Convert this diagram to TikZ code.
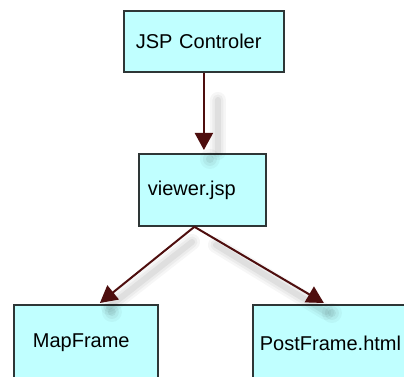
\documentclass[tikz,border=0pt]{standalone}
\usepackage{fontspec}
\setmainfont{Liberation Sans}
\usetikzlibrary{arrows.meta,calc}
\definecolor{boxfill}{HTML}{C0FFFF}
\definecolor{boxline}{HTML}{2E3636}
\definecolor{linkred}{HTML}{4E0E0E}
\tikzset{
  box/.style={draw=boxline, line width=1.8pt, fill=boxfill, rectangle,
    align=left, anchor=north west, inner ysep=0pt,
    font=\fontsize{20}{24}\selectfont},
  link/.style={draw=linkred, line width=2pt,
    -{Triangle[length=17pt,width=18pt]}},
  linkshade/.style={line cap=round, black, opacity=#1},
  tipshade/.style={fill=black, opacity=#1},
}
\begin{document}
\begin{tikzpicture}[x=1pt,y=-1pt]
\useasboundingbox[fill=white] (0,0) rectangle (404,377);

% boxes
\node[box, minimum width=160pt, minimum height=61pt, inner xsep=12pt,
      text width=136pt] (ctrl) at (123,10) {JSP Controler};
\node[box, minimum width=127pt, minimum height=72pt, inner xsep=9pt,
      text width=109pt] (viewer) at (138,153) {viewer.jsp};
\node[box, minimum width=144pt, minimum height=76pt, inner xsep=19pt,
      text width=106pt] (map) at (13,304) {MapFrame};
\node[box, minimum width=160pt, minimum height=76pt, inner xsep=7pt,
      text width=146pt] (post) at (252,304) {PostFrame.html};

% connector end points
\coordinate (c1) at (ctrl.south);
\coordinate (c2) at ($(ctrl.south |- viewer.north)+(0,-3)$);
\coordinate (v1) at ($(viewer.south)+(-8,0)$);
\coordinate (m1) at ($(map.north)+(14,-1)$);
\coordinate (p1) at ($(post.north)+(-9,-1)$);

% soft shadows under the connectors
\foreach \w/\o in {16/0.035, 11/0.04, 6/0.05}{
  \draw[line width=\w pt, linkshade=\o]
    ($(c1)!0.3!(c2)+(14,4)$) -- ($(c2)+(14,2)$);
  \draw[line width=\w pt, linkshade=\o]
    ($(v1)!0.12!(m1)+(9,6)$) -- ($(m1)+(9,4)$);
  \draw[line width=\w pt, linkshade=\o]
    ($(v1)!0.12!(p1)+(6,9)$) -- ($(p1)+(2,9)$);
}
% shadow spots cast by the arrow heads
\foreach \r/\o in {10/0.035, 7/0.045, 4/0.055}{
  \fill[tipshade=\o] ($(c2)+(6,9)$) circle (\r);
  \fill[tipshade=\o] ($(m1)+(12,9)$) circle (\r);
  \fill[tipshade=\o] ($(p1)+(8,10)$) circle (\r);
}

% connectors
\draw[link] (c1) -- (c2);
\draw[link] (v1) -- (m1);
\draw[link] (v1) -- (p1);
\end{tikzpicture}
\end{document}
